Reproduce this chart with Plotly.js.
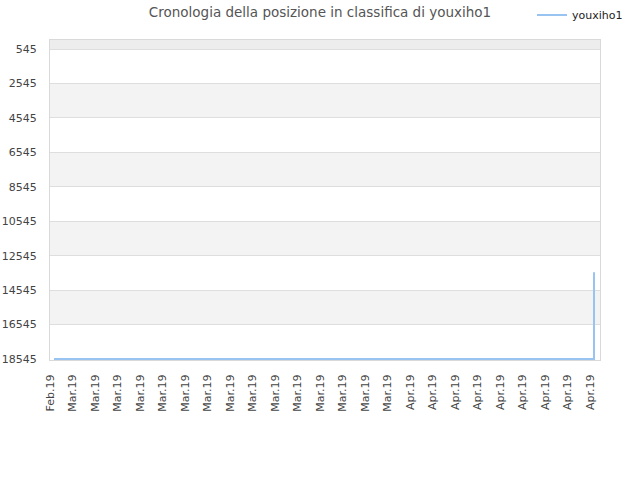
<!DOCTYPE html>
<html>
<head>
<meta charset="utf-8">
<script src="https://cdn.plot.ly/plotly-3.0.1.min.js"></script>
<style>html,body{margin:0;padding:0;background:#fff;}#chart{width:640px;height:480px;}</style>
</head>
<body>
<div id="chart"></div>
<script>
// Data
const seriesName = "youxiho1";
const dates = [
  "2019-02-28","2019-03-01","2019-03-02","2019-03-03","2019-03-04","2019-03-05","2019-03-06",
  "2019-03-07","2019-03-08","2019-03-09","2019-03-10","2019-03-11","2019-03-12","2019-03-13",
  "2019-03-14","2019-03-15","2019-03-16","2019-03-17","2019-03-18","2019-03-19","2019-03-20",
  "2019-03-21","2019-03-22","2019-03-23","2019-03-24","2019-03-25","2019-03-26","2019-03-27",
  "2019-03-28","2019-03-29","2019-03-30","2019-03-31","2019-04-01","2019-04-02","2019-04-03",
  "2019-04-04","2019-04-05","2019-04-06","2019-04-07","2019-04-08","2019-04-09","2019-04-10",
  "2019-04-11","2019-04-12","2019-04-13","2019-04-14","2019-04-15","2019-04-16","2019-04-17"
];
const ranks = [
  18545,18545,18545,18545,18545,18545,18545,
  18545,18545,18545,18545,18545,18545,18545,
  18545,18545,18545,18545,18545,18545,18545,
  18545,18545,18545,18545,18545,18545,18545,
  18545,18545,18545,18545,18545,18545,18545,
  18545,18545,18545,18545,18545,18545,18545,
  18545,18545,18545,18545,18545,18545,13500
];
const yTicks = [545,2545,4545,6545,8545,10545,12545,14545,16545,18545];
const xTickDates = dates.filter((d,i)=>i%2===0);
const monthNames = ["Jan","Feb","Mar","Apr","May","Jun","Jul","Aug","Sep","Oct","Nov","Dec"];
const xTickText = xTickDates.map(d => monthNames[parseInt(d.slice(5,7),10)-1] + "." + d.slice(2,4));

const yTop = 22, yBottom = 18600;

// alternating background bands
const shapes = [];
shapes.push({type:"rect", xref:"paper", yref:"y", x0:0, x1:1, y0:yTop, y1:yTicks[0],
  fillcolor:"#ededed", line:{width:0}, layer:"below"});
for (let i=1;i<yTicks.length-1;i+=2){
  shapes.push({type:"rect", xref:"paper", yref:"y", x0:0, x1:1, y0:yTicks[i], y1:yTicks[i+1],
    fillcolor:"#f3f3f3", line:{width:0}, layer:"below"});
}

const font = "DejaVu Sans, sans-serif";
Plotly.newPlot("chart", [{
  x: dates, y: ranks, name: seriesName, type: "scatter", mode: "lines",
  line: {color: "#99c4f2", width: 2, shape: "hv"}
}], {
  width: 640, height: 480,
  margin: {l:50, r:40, t:40, b:120, pad:0},
  paper_bgcolor: "#ffffff", plot_bgcolor: "#ffffff",
  font: {family: font, size: 11, color: "#444"},
  title: {text: "Cronologia della posizione in classifica di " + seriesName,
    font: {family: font, size: 13.5, color: "#555"}, x: 0.5, xanchor: "center", y: 0.975, yanchor: "middle"},
  showlegend: true,
  legend: {xref: "container", yref: "container", x: 532/640, y: 1 - 15/480, xanchor: "left", yanchor: "middle",
    orientation: "h", font: {family: font, size: 11, color: "#222"}, bgcolor: "rgba(0,0,0,0)"},
  xaxis: {type: "date", range: ["2019-02-27 15:30", "2019-04-17 12:48"],
    tickvals: xTickDates, ticktext: xTickText, tickangle: -90,
    showgrid: false, zeroline: false, showline: true, linecolor: "#d9d9d9", mirror: true,
    ticks: "", ticklabelstandoff: 9, ticklabelshift: -4, tickfont: {family: font, size: 11, color: "#444"}},
  yaxis: {range: [yBottom, yTop], tickvals: yTicks, ticktext: yTicks.map(String),
    showgrid: true, gridcolor: "#dedede", zeroline: false, showline: true, linecolor: "#d9d9d9", mirror: true,
    ticks: "", ticklabelstandoff: 10, tickfont: {family: font, size: 11, color: "#444"}},
  shapes: shapes
}, {displayModeBar: false, staticPlot: true});
</script>
</body>
</html>
